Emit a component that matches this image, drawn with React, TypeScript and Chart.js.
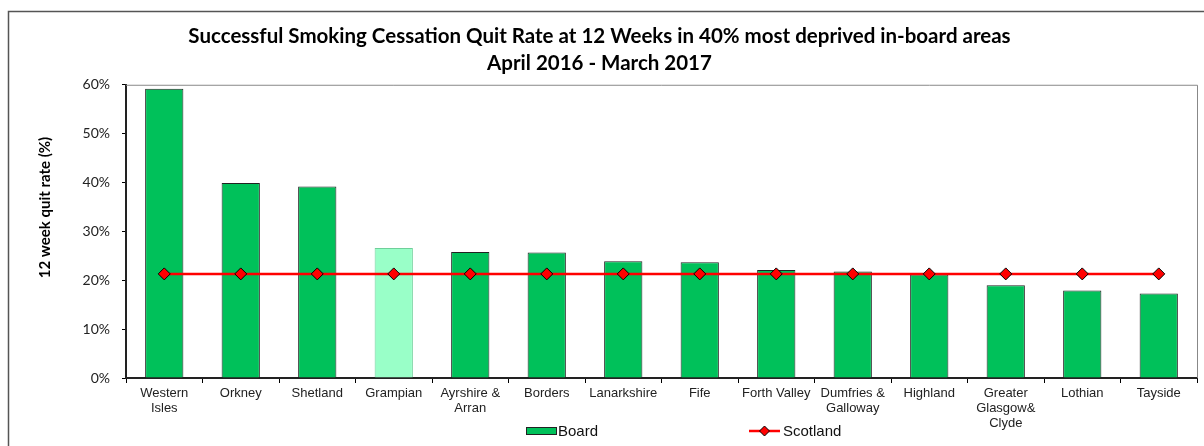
import React, { useEffect, useRef } from "react";
import { Chart, registerables } from "chart.js";

Chart.register(...registerables);

const titleLines = [
  "Successful Smoking Cessation Quit Rate at 12 Weeks in 40% most deprived in-board areas",
  "April 2016 - March 2017",
];
const yAxisTitle = "12 week quit rate (%)";
const categories: string[][] = [
  ["Western", "Isles"],
  ["Orkney"],
  ["Shetland"],
  ["Grampian"],
  ["Ayrshire &", "Arran"],
  ["Borders"],
  ["Lanarkshire"],
  ["Fife"],
  ["Forth Valley"],
  ["Dumfries &", "Galloway"],
  ["Highland"],
  ["Greater", "Glasgow&", "Clyde"],
  ["Lothian"],
  ["Tayside"],
];
const boardRates = [59.2, 39.9, 39.2, 26.6, 25.8, 25.7, 23.9, 23.7, 22.1, 21.8, 21.2, 19.0, 17.9, 17.3];
const scotlandRates = [21.3, 21.3, 21.3, 21.3, 21.3, 21.3, 21.3, 21.3, 21.3, 21.3, 21.3, 21.3, 21.3, 21.3];
const highlightedBoard = "Grampian";
const yTicks = { min: 0, max: 60, step: 10 };
const seriesNames = ["Board", "Scotland"];

const GREEN = "#00C15A";
const LIGHT_GREEN = "#99FFC8";
const RED = "#FF0000";

export default function App() {
  const ref = useRef<HTMLCanvasElement | null>(null);

  useEffect(() => {
    if (!ref.current) return;
    const barColors = categories.map((c) => (c.join(" ") === highlightedBoard ? LIGHT_GREEN : GREEN));
    const barBorders = categories.map((c) => (c.join(" ") === highlightedBoard ? "#6fcf9a" : "#222"));

    const decor = {
      id: "decor",
      afterDraw(chart: any) {
        const ctx = chart.ctx;
        const a = chart.chartArea;
        ctx.save();
        // outer frame
        ctx.strokeStyle = "#555";
        ctx.lineWidth = 1.5;
        ctx.beginPath();
        ctx.moveTo(8.5, 450);
        ctx.lineTo(8.5, 11.5);
        ctx.lineTo(1210, 11.5);
        ctx.stroke();
        // plot area top / right border
        ctx.strokeStyle = "#888";
        ctx.lineWidth = 1;
        ctx.beginPath();
        ctx.moveTo(a.left, a.top + 0.5);
        ctx.lineTo(a.right + 0.5, a.top + 0.5);
        ctx.lineTo(a.right + 0.5, a.bottom);
        ctx.stroke();
        // y axis title
        ctx.translate(45, 207.5);
        ctx.rotate(-Math.PI / 2);
        ctx.font = "bold 15px Lato";
        ctx.fillStyle = "#000";
        ctx.textAlign = "center";
        ctx.textBaseline = "middle";
        ctx.fillText(yAxisTitle, 0, 0);
        ctx.restore();

        // legend
        ctx.save();
        const ly = 431;
        ctx.fillStyle = GREEN;
        ctx.strokeStyle = "#222";
        ctx.lineWidth = 1;
        ctx.fillRect(526, ly - 4, 31, 8);
        ctx.strokeRect(526.5, ly - 3.5, 30, 7);
        ctx.font = "15px 'Liberation Sans', Arial";
        ctx.fillStyle = "#111";
        ctx.textBaseline = "middle";
        ctx.textAlign = "left";
        ctx.fillText(seriesNames[0], 558, ly + 1);
        ctx.strokeStyle = RED;
        ctx.lineWidth = 2.5;
        ctx.beginPath();
        ctx.moveTo(749, ly);
        ctx.lineTo(780, ly);
        ctx.stroke();
        ctx.fillStyle = RED;
        ctx.strokeStyle = "#000";
        ctx.lineWidth = 1;
        ctx.beginPath();
        ctx.moveTo(764.5, ly - 5);
        ctx.lineTo(769.5, ly);
        ctx.lineTo(764.5, ly + 5);
        ctx.lineTo(759.5, ly);
        ctx.closePath();
        ctx.fill();
        ctx.stroke();
        ctx.fillStyle = "#111";
        ctx.fillText(seriesNames[1], 783, ly + 1);
        ctx.restore();
      },
    };

    const chart = new Chart(ref.current, {
      type: "bar",
      data: {
        labels: categories,
        datasets: [
          {
            type: "line",
            label: seriesNames[1],
            data: scotlandRates,
            borderColor: RED,
            borderWidth: 2.5,
            backgroundColor: RED,
            pointStyle: "rectRot",
            pointRadius: 6,
            pointBackgroundColor: RED,
            pointBorderColor: "#000",
            pointBorderWidth: 1,
            order: 1,
          } as any,
          {
            type: "bar",
            label: seriesNames[0],
            data: boardRates,
            backgroundColor: barColors,
            borderColor: barBorders,
            borderWidth: 1,
            barPercentage: 0.5,
            categoryPercentage: 1,
            order: 2,
          },
        ],
      },
      plugins: [decor],
      options: {
        animation: false,
        responsive: false,
        maintainAspectRatio: false,
        layout: { padding: { left: 0, right: 5, top: 0, bottom: 0 } },
        plugins: {
          legend: { display: false },
          tooltip: { enabled: false },
          title: {
            display: true,
            text: titleLines,
            color: "#000",
            font: { family: "Lato", weight: "bold", size: 20.5, lineHeight: 1.36 },
            padding: { top: 22, bottom: 7 },
          },
        },
        scales: {
          x: {
            offset: true,
            afterFit: (s: any) => {
              s.height = 68;
            },
            grid: {
              display: true,
              offset: true,
              drawOnChartArea: false,
              drawTicks: true,
              tickLength: 5,
              color: "#000",
            },
            border: { display: true, color: "#222", width: 2 },
            ticks: {
              color: "#222",
              font: { family: "'Liberation Sans', Arial", size: 13, lineHeight: 1.15 },
              padding: 3,
              maxRotation: 0,
              autoSkip: false,
            },
          },
          y: {
            min: yTicks.min,
            max: yTicks.max,
            afterFit: (s: any) => {
              s.width = 126;
            },
            grid: {
              display: true,
              drawOnChartArea: false,
              drawTicks: true,
              tickLength: 4,
              color: "#000",
            },
            border: { display: true, color: "#222", width: 2 },
            ticks: {
              stepSize: yTicks.step,
              color: "#222",
              font: { family: "Lato", size: 14 },
              padding: 12,
              callback: (v: any) => v + "%",
            },
          },
        },
      },
    });
    return () => chart.destroy();
  }, []);

  return (
    <div style={{ position: "absolute", left: 0, top: 0, width: 1204, height: 446, background: "#fff" }}>
      <canvas ref={ref} width={1204} height={446} style={{ width: 1204, height: 446 }} />
    </div>
  );
}
